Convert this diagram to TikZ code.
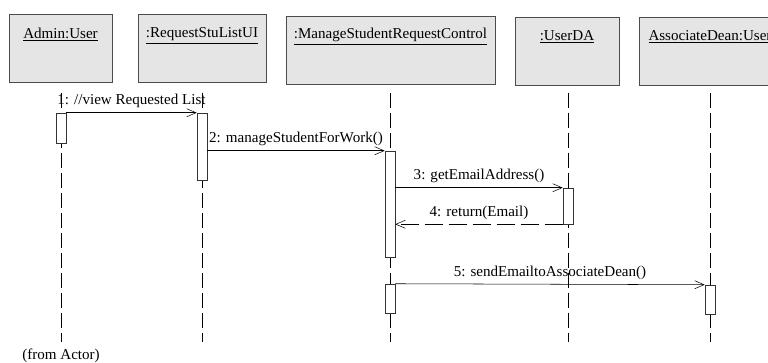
\documentclass[tikz,border=0pt]{standalone}
\usepackage{fontspec}
\setmainfont{Liberation Serif}
\usetikzlibrary{calc,arrows.meta}

\begin{document}
\begin{tikzpicture}[x=0.75pt,y=-0.75pt,thin,
	font=\fontsize{11.3}{13}\selectfont,
	obj/.style={draw=black!70,fill=black!10,minimum width=0.75pt*#1,minimum height=51pt,inner sep=0},
	act/.style={draw=black!80,fill=white,minimum width=7.5pt,minimum height=0.75pt*#1,inner sep=0},
	life/.style={dash pattern=on 11pt off 4pt},
	msg/.style={-{Straight Barb[length=7pt,width=6pt]}},
	ret/.style={msg,dash pattern=on 13pt off 5pt}]
		\useasboundingbox (0,0) rectangle (768,363);
		% objects
		\path
		(60.5,48) node[obj=103] (admin) {}
		(202,48) node[obj=128] (rsl) {}
		(390.5,50) node[obj=209] (mgr) {}
		(567,51) node[obj=104] (uda) {}
		(710,51) node[obj=142] (dean) {}
		;
		\path
		(admin.north) ++(0,21) node (admin-t) {\underline{Admin:User}}
		(rsl.north) ++(0,22) node (rsl-t) {\underline{:RequestStuListUI}}
		(mgr.north) ++(0,21) node (mgr-t) {\underline{:ManageStudentRequestControl}}
		(uda.north) ++(0,20) node (uda-t) {\underline{:UserDA}}
		(dean.north) ++(0,20) node (dean-t) {\underline{AssociateDean:User}}
		;
		% lifelines
		\path
		(61,93) coordinate (L1) (61,342) coordinate (E1)
		(202,93) coordinate (L2) (202,342) coordinate (E2)
		(390,93) coordinate (L3) (390,342) coordinate (E3)
		(568,93) coordinate (L4) (568,342) coordinate (E4)
		(710,93) coordinate (L5) (710,342) coordinate (E5)
		;
		\draw[life] (L1) -- (E1);
		\draw[life] (L2) -- (E2);
		\draw[life] (L3) -- (E3);
		\draw[life] (L4) -- (E4);
		\draw[life] (L5) -- (E5);
		% activations
		\path
		(61,128) node[act=30] (a1) {}
		(202,146.5) node[act=67] (a2) {}
		(390,204) node[act=106] (c1) {}
		(568,206) node[act=36] (u1) {}
		(390,298.5) node[act=29] (c2) {}
		(710,299.5) node[act=29] (d1) {}
		;
		% messages
		\draw[msg] (a1.north east) -- node[above] (m1) {1: //view Requested List} (a2.north west);
		\draw[msg] (a2.east |- c1.north) -- node[above] (m2) {2: manageStudentForWork()} (c1.north west);
		\draw[msg] (c1.east |- u1.north) -- node[above] (m3) {3: getEmailAddress()} (u1.north west);
		\draw[ret] (u1.south west) -- node[above] (m4) {4: return(Email)} (c1.east |- u1.south);
		\draw[msg] (c2.north east) -- node[above] (m5) {5: sendEmailtoAssociateDean()} (d1.north west);
		\node (from) at (61,356) {(from Actor)};
	\end{tikzpicture}
\end{document}
